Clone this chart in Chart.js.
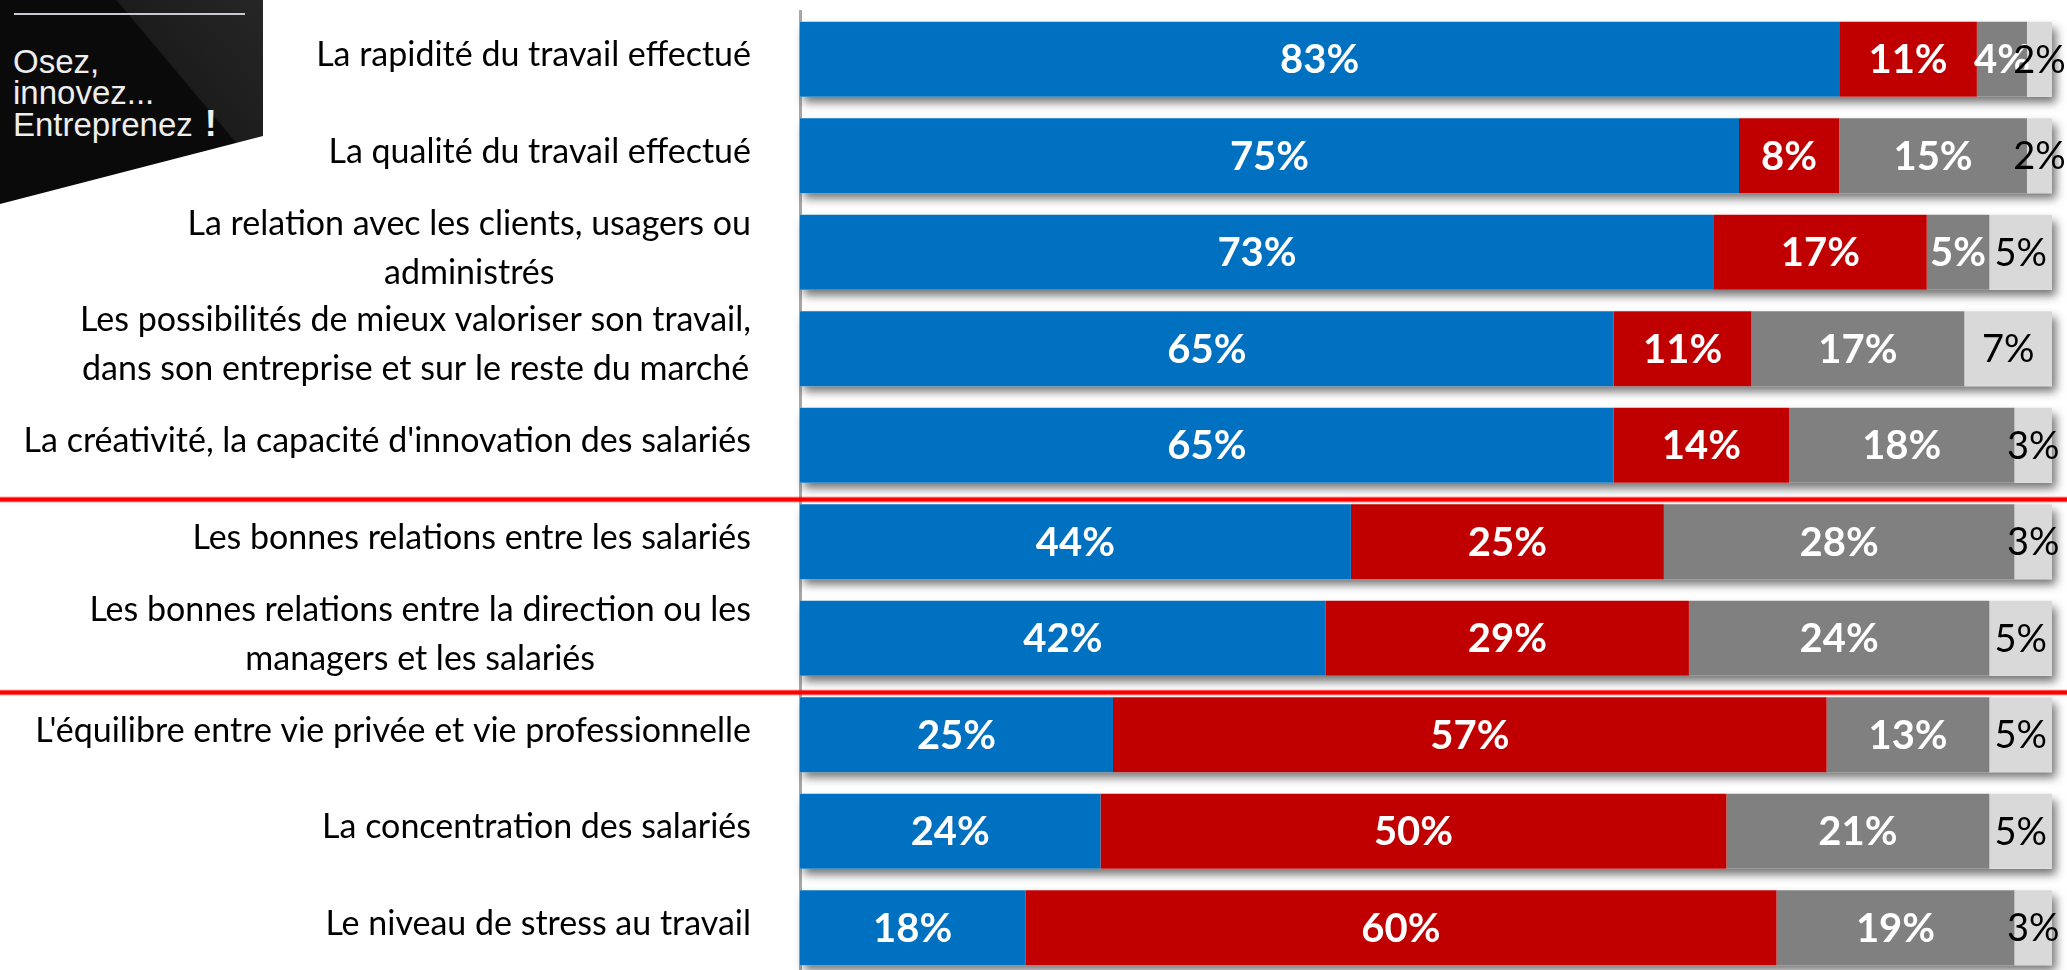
<!DOCTYPE html>
<html lang="fr">
<head>
<meta charset="utf-8">
<title>Impact sur le travail</title>
<script src="https://cdn.jsdelivr.net/npm/chart.js@4.4.1/dist/chart.umd.min.js"></script>
<style>
  html, body { margin: 0; padding: 0; background: #fff; overflow: hidden; }
  #wrap { position: relative; width: 2067px; height: 970px; overflow: hidden; }
  #chart { position: absolute; left: 0; top: 0; }
  #logo {
    position: absolute; left: 0; top: 0; width: 263px; height: 204px;
    clip-path: polygon(0 0, 263px 0, 263px 136px, 0 204px);
    background: linear-gradient(50deg, #0a0a0a 0%, #0a0a0a 66%, #1c1c1c 66.5%, #262626 100%);
  }
  #logo .rule { position: absolute; left: 14px; top: 13px; width: 231px; height: 2px; background: #c9c9d2; }
  #logo .txt {
    position: absolute; left: 13px; top: 46px;
    font-family: "Liberation Sans", Arial, sans-serif; font-size: 33px; line-height: 31px;
    color: #eeeeee;
  }
  #logo .txt b { font-size: 36px; margin-left: 12px; }
</style>
</head>
<body>
<div id="wrap">
  <canvas id="chart" width="2067" height="990"></canvas>
  <div id="logo">
    <div class="rule"></div>
    <div class="txt">Osez,<br>innovez...<br>Entreprenez<b>!</b></div>
  </div>
</div>
<script>
// --- DONNÉES ---

// Catégories (les tableaux = libellés sur plusieurs lignes)
const categories = [
  'La rapidité du travail effectué',
  'La qualité du travail effectué',
  ['La relation avec les clients, usagers ou', 'administrés'],
  ['Les possibilités de mieux valoriser son travail,', 'dans son entreprise et sur le reste du marché'],
  "La créativité, la capacité d'innovation des salariés",
  'Les bonnes relations entre les salariés',
  ['Les bonnes relations entre la direction ou les', 'managers et les salariés'],
  "L'équilibre entre vie privée et vie professionnelle",
  'La concentration des salariés',
  'Le niveau de stress au travail'
];

// Séries (en %)
const positif = [83, 75, 73, 65, 65, 44, 42, 25, 24, 18];
const negatif = [11, 8, 17, 11, 14, 25, 29, 57, 50, 60];
const sansImpact = [4, 15, 5, 17, 18, 28, 24, 13, 21, 19];
const nspp = [2, 2, 5, 7, 3, 3, 5, 5, 5, 3];

const seriesNames = ['Impact positif', 'Impact négatif', 'Pas d\'impact', 'NSP'];

// Séparateurs rouges : après ces index de catégorie
const separatorsAfter = [4, 6];

// --- PLUGINS ---

// Ombre portée sous chaque barre complète
const barShadow = {
  id: 'barShadow',
  beforeDatasetsDraw(chart) {
    const ctx = chart.ctx;
    const first = chart.getDatasetMeta(0).data;
    const last = chart.getDatasetMeta(chart.data.datasets.length - 1).data;
    ctx.save();
    ctx.shadowColor = 'rgba(0,0,0,0.55)';
    ctx.shadowBlur = 9;
    ctx.shadowOffsetX = 4;
    ctx.shadowOffsetY = 6;
    ctx.fillStyle = '#ffffff';
    first.forEach((bar, i) => {
      const a = bar.getProps(['y', 'base', 'height'], true);
      const b = last[i].getProps(['x'], true);
      ctx.fillRect(a.base, a.y - a.height / 2, b.x - a.base, a.height);
    });
    ctx.restore();
  }
};

// Étiquettes de valeurs dans les barres
const valueLabels = {
  id: 'valueLabels',
  afterDatasetsDraw(chart) {
    const ctx = chart.ctx;
    ctx.save();
    ctx.textAlign = 'center';
    ctx.textBaseline = 'middle';
    chart.data.datasets.forEach((ds, di) => {
      const dark = di === 3;
      ctx.fillStyle = dark ? '#000000' : '#ffffff';
      ctx.font = dark ? '38px Lato' : 'bold 40px Lato';
      chart.getDatasetMeta(di).data.forEach((bar, i) => {
        const p = bar.getProps(['x', 'y', 'base'], true);
        ctx.fillText(ds.data[i] + '%', (p.x + p.base) / 2, p.y + 1);
      });
    });
    ctx.restore();
  }
};

// Libellés des catégories (lignes centrées, bloc aligné à droite)
const categoryLabels = {
  id: 'categoryLabels',
  afterDraw(chart) {
    const ctx = chart.ctx;
    const yScale = chart.scales.y;
    const right = 751;
    const lineH = 49;
    ctx.save();
    ctx.font = '34px Lato';
    ctx.fillStyle = '#000000';
    ctx.textAlign = 'center';
    ctx.textBaseline = 'middle';
    categories.forEach((lab, i) => {
      const lines = Array.isArray(lab) ? lab : [lab];
      const widest = Math.max(...lines.map(l => ctx.measureText(l).width));
      const cx = right - widest / 2;
      const yc = yScale.getPixelForValue(i) - 4;
      lines.forEach((l, k) => {
        ctx.fillText(l, cx, yc + (k - (lines.length - 1) / 2) * lineH);
      });
    });
    ctx.restore();
  }
};

// Lignes rouges de séparation
const separators = {
  id: 'separators',
  afterDraw(chart) {
    const ctx = chart.ctx;
    const yScale = chart.scales.y;
    ctx.save();
    separatorsAfter.forEach(i => {
      const y = (yScale.getPixelForValue(i) + yScale.getPixelForValue(i + 1)) / 2 + 6;
      ctx.fillStyle = 'rgba(255,0,0,0.35)';
      ctx.fillRect(0, y - 3, chart.width, 6);
      ctx.fillStyle = '#ff0000';
      ctx.fillRect(0, y - 2, chart.width, 4);
    });
    ctx.restore();
  }
};

// --- GRAPHIQUE ---

const ctx = document.getElementById('chart').getContext('2d');
new Chart(ctx, {
  type: 'bar',
  data: {
    labels: categories,
    datasets: [
      { label: seriesNames[0], data: positif, backgroundColor: '#0070C0' },
      { label: seriesNames[1], data: negatif, backgroundColor: '#C00000' },
      { label: seriesNames[2], data: sansImpact, backgroundColor: '#808080' },
      { label: seriesNames[3], data: nspp, backgroundColor: '#D9D9D9' }
    ]
  },
  options: {
    indexAxis: 'y',
    responsive: false,
    animation: false,
    devicePixelRatio: 1,
    layout: { padding: { left: 800, right: 15, top: 11, bottom: 14 } },
    datasets: {
      bar: { categoryPercentage: 1, barPercentage: 0.778, borderWidth: 0 }
    },
    scales: {
      x: { stacked: true, min: 0, max: 100, display: false },
      y: {
        stacked: true,
        ticks: { display: false },
        grid: { display: false, drawTicks: false },
        border: { display: true, color: '#a6a6a6', width: 3 }
      }
    },
    plugins: {
      legend: { display: false },
      tooltip: { enabled: false }
    }
  },
  plugins: [barShadow, valueLabels, categoryLabels, separators]
});
</script>
</body>
</html>
